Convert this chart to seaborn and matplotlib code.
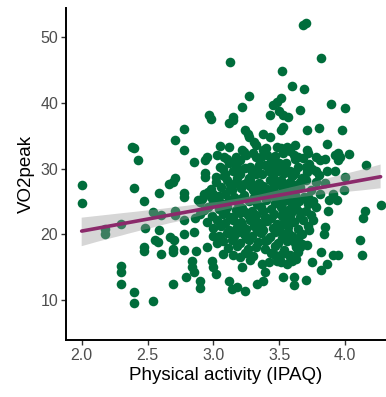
import matplotlib
matplotlib.use("Agg")
import matplotlib.pyplot as plt
from matplotlib.ticker import FormatStrFormatter
import pandas as pd
import seaborn as sns

# (IPAQ, VO2peak) pairs, outer / sparse points
scattered = [
    (3.68, 51.9), (3.70, 52.2), (3.13, 46.3), (3.82, 46.9), (3.52, 44.9), (3.60, 42.6),
    (3.69, 42.1), (3.27, 41.0), (3.51, 40.7), (3.48, 40.2), (3.45, 39.7), (3.22, 39.4),
    (3.89, 39.9), (4.00, 39.2), (3.66, 38.9), (2.97, 38.1), (2.98, 37.6), (3.50, 38.7),
    (3.53, 38.1), (3.57, 37.9), (3.43, 38.1), (3.15, 37.9), (3.15, 37.4), (3.12, 36.9),
    (2.78, 36.1), (3.53, 36.4), (3.51, 35.9), (3.71, 35.9), (3.80, 36.2), (3.98, 35.9),
    (3.24, 35.9), (3.26, 35.3), (3.27, 34.8), (3.38, 35.2), (3.43, 34.8), (2.71, 34.3),
    (2.38, 33.3), (2.40, 33.2), (2.78, 32.9), (3.12, 33.3), (3.31, 34.1), (3.32, 33.6),
    (3.38, 32.8), (3.48, 33.3), (3.51, 33.1), (3.56, 33.3), (3.71, 32.8), (3.72, 32.3),
    (3.86, 33.7), (3.95, 32.3), (3.96, 31.8), (4.03, 32.2), (2.43, 31.3), (2.95, 31.8),
    (2.94, 31.3), (2.85, 31.0), (3.08, 31.8), (3.10, 31.4), (3.14, 31.0), (3.23, 32.5),
    (3.25, 32.0), (3.32, 31.8), (3.36, 31.8), (3.41, 32.0), (3.61, 32.0), (3.64, 31.8),
    (3.78, 31.8), (3.81, 31.3), (3.85, 31.5), (4.16, 30.6), (2.94, 29.4), (2.94, 28.7),
    (3.02, 28.7), (3.07, 30.0), (3.09, 29.2), (3.18, 30.3), (3.28, 30.3), (3.29, 29.5),
    (3.39, 30.5), (3.42, 29.7), (3.50, 30.8), (3.52, 30.0), (3.58, 29.7), (3.61, 29.2),
    (3.70, 30.3), (3.71, 29.5), (3.78, 29.7), (3.86, 29.7), (3.92, 29.7), (4.00, 28.7),
    (2.71, 28.5), (2.69, 28.0), (2.66, 27.7), (2.59, 26.3), (2.40, 27.0), (2.00, 27.5),
    (2.00, 24.7), (2.47, 25.0), (2.78, 26.3), (2.78, 25.7), (2.88, 25.2), (2.91, 25.4),
    (2.96, 26.4), (2.98, 25.7), (3.00, 26.2), (3.04, 25.9), (3.13, 26.9), (3.17, 28.0),
    (3.23, 27.7), (3.28, 28.2), (3.33, 27.5), (3.37, 26.7), (3.46, 27.5), (3.51, 28.2),
    (3.56, 27.7), (3.61, 26.9), (3.66, 28.0), (3.78, 28.0), (3.72, 25.7), (3.76, 25.0),
    (3.91, 26.2), (3.94, 25.2), (3.99, 26.7), (3.88, 25.2), (3.87, 23.6), (4.27, 24.4),
    (4.15, 23.5), (4.14, 22.4), (2.54, 23.4), (2.60, 22.9), (2.71, 23.6), (2.71, 22.9),
    (2.78, 22.1), (2.86, 22.4), (2.90, 23.1), (2.93, 23.7), (2.18, 20.8), (2.18, 20.0),
    (2.30, 21.6), (2.48, 20.9), (2.59, 20.6), (2.67, 19.6), (2.70, 19.1), (2.78, 20.1),
    (2.85, 20.3), (2.56, 19.2), (2.58, 18.8), (2.47, 18.0), (2.47, 17.5), (2.60, 17.0),
    (2.69, 17.8), (2.69, 17.3), (2.78, 17.6), (2.87, 17.5), (2.95, 18.0), (3.00, 19.8),
    (3.03, 18.6), (3.07, 17.0), (2.30, 15.1), (2.30, 14.2), (2.30, 12.4), (2.40, 11.2),
    (2.40, 9.6), (2.54, 9.9), (2.69, 12.4), (2.79, 13.5), (2.84, 16.0), (2.84, 15.0),
    (2.85, 14.2), (2.90, 12.9), (2.90, 11.8), (2.99, 16.0), (3.00, 15.0), (3.02, 14.0),
    (3.12, 12.9), (3.14, 11.7), (3.18, 11.9), (3.24, 11.3), (3.20, 16.5), (3.22, 15.0),
    (3.33, 12.5), (3.38, 12.9), (3.37, 15.5), (3.39, 14.2), (3.53, 13.5), (3.61, 13.5),
    (3.61, 12.2), (3.70, 13.0), (3.48, 16.0), (3.51, 15.7), (3.56, 15.5), (3.60, 16.0),
    (3.47, 16.8), (3.52, 17.0), (3.58, 16.5), (3.64, 17.3), (3.63, 18.0), (3.75, 15.8),
    (3.82, 17.3), (3.82, 14.5), (3.86, 15.5), (3.91, 16.8), (3.95, 16.8), (4.11, 19.2),
    (4.13, 16.9), (3.84, 20.1), (3.85, 21.1), (3.76, 22.1), (3.73, 20.6), (3.67, 18.5),
    (3.71, 18.3), (3.92, 32.1), (3.95, 31.3),
]

# dense central cloud, read row by row
core = [
    (3.05, 33.4), (3.22, 32.9), (3.40, 33.2), (3.58, 32.7), (3.62, 33.6),
    (3.03, 32.1), (3.17, 31.7), (3.30, 32.4), (3.47, 31.9), (3.53, 32.3), (3.68, 31.6),
    (3.12, 30.8), (3.20, 31.3), (3.35, 30.6), (3.44, 31.2), (3.55, 30.9), (3.62, 31.4), (3.73, 30.7),
    (3.05, 30.2), (3.15, 29.7), (3.24, 30.1), (3.33, 29.8), (3.46, 30.3), (3.57, 29.6), (3.64, 30.2),
    (3.75, 29.9),
    (3.08, 28.8), (3.20, 29.2), (3.27, 28.6), (3.37, 29.1), (3.45, 28.7), (3.54, 29.3), (3.60, 28.9),
    (3.67, 28.5), (3.80, 29.0),
    (3.02, 27.9), (3.10, 28.2), (3.19, 27.7), (3.26, 28.1), (3.35, 27.8), (3.43, 28.3), (3.50, 27.6),
    (3.58, 28.0), (3.63, 27.5), (3.70, 28.2), (3.85, 27.8),
    (2.98, 26.9), (3.06, 27.2), (3.14, 26.7), (3.21, 27.1), (3.30, 26.8), (3.38, 27.3), (3.46, 26.6),
    (3.53, 27.0), (3.59, 26.5), (3.66, 27.2), (3.74, 26.8),
    (2.93, 26.1), (3.01, 25.8), (3.09, 26.2), (3.16, 25.7), (3.23, 26.0), (3.31, 25.6), (3.36, 26.3),
    (3.42, 25.9), (3.50, 26.1), (3.56, 25.6), (3.62, 26.0), (3.69, 25.7), (3.81, 26.2),
    (2.90, 24.9), (3.00, 25.1), (3.06, 24.7), (3.12, 25.2), (3.19, 24.8), (3.27, 25.0), (3.33, 24.6),
    (3.40, 25.2), (3.47, 24.8), (3.54, 25.1), (3.60, 24.7), (3.65, 25.0), (3.72, 24.6),
    (2.96, 24.1), (3.04, 23.8), (3.10, 24.2), (3.17, 23.7), (3.22, 24.0), (3.29, 23.6), (3.36, 24.1),
    (3.44, 23.8), (3.51, 24.2), (3.57, 23.7), (3.63, 24.0), (3.70, 23.6), (3.78, 24.1),
    (2.99, 22.8), (3.07, 23.1), (3.13, 22.7), (3.20, 23.2), (3.26, 22.9), (3.32, 23.0), (3.39, 22.6),
    (3.46, 23.1), (3.52, 22.8), (3.59, 23.2), (3.66, 22.7), (3.74, 23.0),
    (2.95, 21.9), (3.03, 22.2), (3.09, 21.7), (3.15, 22.1), (3.21, 21.8), (3.28, 22.2), (3.35, 21.7),
    (3.41, 22.0), (3.48, 21.6), (3.55, 22.1), (3.61, 21.8), (3.68, 22.2),
    (3.00, 20.9), (3.06, 21.2), (3.12, 20.7), (3.18, 21.1), (3.25, 20.8), (3.31, 21.2), (3.38, 20.6),
    (3.45, 21.0), (3.50, 20.7), (3.57, 21.1), (3.64, 20.8), (3.72, 21.2),
    (3.04, 19.8), (3.10, 20.2), (3.16, 19.7), (3.23, 20.1), (3.29, 19.8), (3.36, 20.2), (3.43, 19.6),
    (3.53, 20.0), (3.60, 19.7), (3.67, 20.1),
    (3.07, 18.9), (3.14, 19.2), (3.20, 18.7), (3.27, 19.1), (3.34, 18.8), (3.41, 19.2), (3.49, 18.7),
    (3.56, 19.0), (3.62, 18.6),
    (3.11, 17.9), (3.18, 18.2), (3.26, 17.7), (3.32, 18.1), (3.39, 17.8), (3.47, 18.2), (3.54, 17.6),
    (3.66, 18.0),
    (3.15, 16.9), (3.24, 17.2), (3.30, 16.7), (3.44, 17.1), (3.58, 16.8),
    (3.28, 16.1), (3.42, 15.8), (3.63, 16.2),
]

# extra points filling the gaps of the densest part
core_fill = [
    (3.13, 27.6), (3.28, 27.4), (3.41, 26.9), (3.55, 26.3), (3.48, 25.5), (3.34, 25.8),
    (3.20, 25.4), (3.09, 23.5), (3.24, 23.4), (3.38, 23.6), (3.53, 23.5), (3.60, 24.4),
    (3.15, 22.6), (3.30, 22.5), (3.44, 22.4), (3.58, 22.5), (3.22, 21.4), (3.36, 21.3),
    (3.52, 21.5), (3.47, 20.3), (3.33, 20.5), (3.19, 20.4), (3.57, 20.4), (3.25, 19.5),
    (3.39, 19.0), (3.52, 19.4), (3.64, 19.4), (3.70, 25.3), (3.66, 23.4), (3.45, 27.9),
    (3.32, 29.1), (3.49, 29.6), (3.18, 28.6), (3.62, 29.5),
]

x_ticks = [2.0, 2.5, 3.0, 3.5, 4.0]
y_ticks = [10, 20, 30, 40, 50]

df = pd.DataFrame(scattered + core + core_fill, columns=["ipaq", "vo2peak"])

sns.set_style("ticks")
plt.rcParams["font.family"] = ["Liberation Sans", "DejaVu Sans"]

fig, ax = plt.subplots(figsize=(3.86, 3.97), dpi=100)
fig.subplots_adjust(left=0.171, right=1.0, bottom=0.1436, top=0.98)

sns.scatterplot(data=df, x="ipaq", y="vo2peak", color="#006d3b",
                s=48, linewidth=0, ax=ax)
# regression line with 95% band (grey band drawn over the points, like ggplot)
sns.regplot(data=df, x="ipaq", y="vo2peak", scatter=False,
            seed=1, line_kws={"color": "#8b2a6b", "lw": 2.6}, ax=ax)
band = ax.collections[-1]
band.set_facecolor("#999999")
band.set_edgecolor("none")
band.set_alpha(0.4)

ax.set_xlim(1.881, 4.311)
ax.set_ylim(3.9, 54.46)
ax.set_xticks(x_ticks)
ax.set_yticks(y_ticks)
ax.xaxis.set_major_formatter(FormatStrFormatter("%.1f"))
ax.tick_params(length=3.5, width=1, color="#333333", labelcolor="#4d4d4d",
               labelsize=11.5, pad=2)
for side in ["left", "bottom"]:
    ax.spines[side].set_linewidth(1.4)
    ax.spines[side].set_color("black")
sns.despine(ax=ax)

ax.set_xlabel("Physical activity (IPAQ)", fontsize=13.5, color="black", labelpad=3)
ax.set_ylabel("VO2peak", fontsize=13.5, color="black", labelpad=4)

fig.savefig("out.png", dpi=100)
